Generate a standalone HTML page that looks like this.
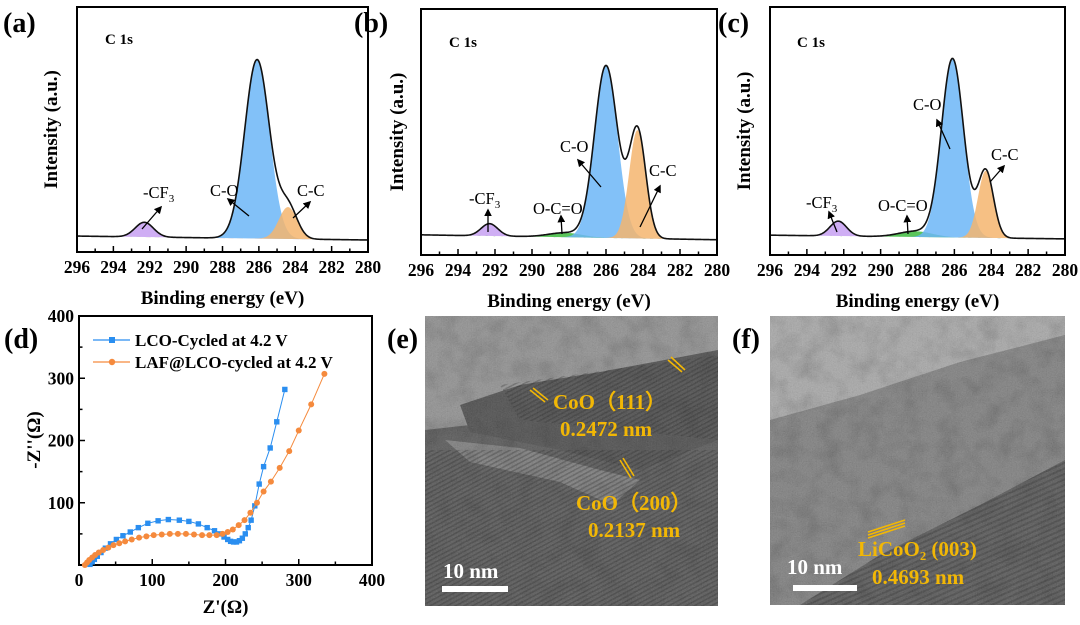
<!DOCTYPE html>
<html><head><meta charset="utf-8">
<style>
html,body{margin:0;padding:0;background:#fff;}
body{width:1080px;height:625px;overflow:hidden;position:relative;font-family:"Liberation Serif",serif;}
svg{position:absolute;left:0;top:0;}
</style></head>
<body>
<svg id="fig" width="1080" height="625" viewBox="0 0 1080 625">
<defs>
<filter id="grainE" x="0" y="0" width="100%" height="100%">
<feTurbulence type="fractalNoise" baseFrequency="0.8" numOctaves="2" seed="3"/>
<feColorMatrix type="matrix" values="0.33 0.33 0.33 0 0  0.33 0.33 0.33 0 0  0.33 0.33 0.33 0 0  0 0 0 0 0.5"/>
</filter>
<filter id="blobs" x="0" y="0" width="100%" height="100%">
<feTurbulence type="fractalNoise" baseFrequency="0.05" numOctaves="3" seed="7"/>
<feColorMatrix type="matrix" values="0 0 0 0 0  0 0 0 0 0  0 0 0 0 0  1 0 0 0 -0.4"/>
</filter>
<pattern id="latt1" width="4" height="4" patternUnits="userSpaceOnUse" patternTransform="rotate(-28)">
<rect width="4" height="1.6" fill="rgba(0,0,0,0.3)"/></pattern>
<pattern id="latt2" width="5" height="5" patternUnits="userSpaceOnUse" patternTransform="rotate(-24)">
<rect width="5" height="2" fill="rgba(0,0,0,0.25)"/></pattern>
<marker id="arr" viewBox="0 0 10 10" refX="8" refY="5" markerWidth="6" markerHeight="6" orient="auto-start-reverse">
<path d="M0,0 L10,5 L0,10 z" fill="#000"/></marker>
<clipPath id="clipE"><rect x="425" y="316" width="293" height="290"/></clipPath>
<clipPath id="clipF"><rect x="770" y="316" width="295" height="289"/></clipPath>
</defs>
</svg>
<script>
const NS="http://www.w3.org/2000/svg";
const svg=document.getElementById('fig');
function mk(tag,attrs,parent,text){const e=document.createElementNS(NS,tag);for(const k in attrs)e.setAttribute(k,attrs[k]);if(text!==undefined)e.textContent=text;(parent||svg).appendChild(e);return e;}

// ---- XPS data (binding energy eV, intensity a.u. 0-100 scale) ----
const xpsTicks=[296,294,292,290,288,286,284,282,280];
const aCenters=[292.3,286.1,284.4];
const aAmps=[6,73,13];
const aSigmas=[0.5,0.68,0.5];
const aColors=['#c7a0f2','#6cb6f7','#f5b56e'];
const aBg=[6.5,4.9];
const bCenters=[292.3,288.2,286.0,284.3];
const bAmps=[5,1.8,70,44];
const bSigmas=[0.45,0.9,0.62,0.45];
const bColors=['#c7a0f2','#3dbb3d','#6cb6f7','#f5b56e'];
const bBg=[8.2,6.2];
const cCenters=[292.3,288.1,286.1,284.3];
const cAmps=[6,2.3,72,27];
const cSigmas=[0.45,0.9,0.6,0.42];
const cColors=['#c7a0f2','#3dbb3d','#6cb6f7','#f5b56e'];
const cBg=[8.0,6.5];

function xpsPanel(id,box,centers,amps,sigmas,colors,bg,labels,arrows,c1s,yTitleX,xTitle){
  const g=mk('g',{});
  
  
  const X=v=>box.x0+(296-v)/16*(box.x1-box.x0);
  const Y=v=>box.y1-v/100*(box.y1-box.y0);
  const bgf=e=>bg[0]+(bg[1]-bg[0])*(296-e)/16;
  const N=400;
  centers.forEach((c,i)=>{
    let d='M'+X(296)+','+Y(bgf(296));
    for(let k=0;k<=N;k++){const e=296-16*k/N;d+=' L'+X(e).toFixed(2)+','+Y(bgf(e)+amps[i]*Math.exp(-0.5*((e-c)/sigmas[i])**2)).toFixed(2);}
    d+=' L'+X(280)+','+Y(bgf(280))+' Z';
    const p=mk('path',{d:d,fill:colors[i],'fill-opacity':0.85,stroke:'none'},g);
    
    
  });
  let d='';
  for(let k=0;k<=N;k++){const e=296-16*k/N;let v=bgf(e);centers.forEach((c,i)=>{v+=amps[i]*Math.exp(-0.5*((e-c)/sigmas[i])**2);});d+=(k?' L':'M')+X(e).toFixed(2)+','+Y(v).toFixed(2);}
  const env=mk('path',{d:d,fill:'none',stroke:'#111','stroke-width':1.6},g);
  
  
  const fr=mk('rect',{x:box.x0,y:box.y0,width:box.x1-box.x0,height:box.y1-box.y0,fill:'none',stroke:'#000','stroke-width':2},g);
  
  
  for(let t=296;t>=280;t--){
    const major=t%2===0;
    mk('line',{x1:X(t),x2:X(t),y1:box.y1,y2:box.y1-(major?6:3.5),stroke:'#000','stroke-width':1.5},g);
  }
  xpsTicks.forEach(t=>{
    const tl=mk('text',{x:X(t),y:box.y1+21,'text-anchor':'middle','font-size':17.5,'font-weight':'bold'},g,String(t));
    
    
  });
  const xt=mk('text',{x:(box.x0+box.x1)/2,y:box.y1+52,'text-anchor':'middle','font-size':19,'font-weight':'bold'},g,xTitle);
  
  
  const yt=mk('text',{x:0,y:0,'text-anchor':'middle','font-size':19,'font-weight':'bold',transform:'translate('+yTitleX+','+((box.y0+box.y1)/2)+') rotate(-90)'},g,'Intensity (a.u.)');
  
  
  const cs=mk('text',{x:c1s[0],y:c1s[1],'font-size':15,'font-weight':'bold'},g,'C 1s');
  
  
  labels.forEach(L=>{
    const t=mk('text',{x:L[0],y:L[1],'font-size':16.5},g);
    if(L[2]==='-CF3'){t.textContent='-CF';mk('tspan',{'font-size':11,dy:4},t,'3');}
    else t.textContent=L[2];
    
    
  });
  arrows.forEach(a=>{
    const l=mk('line',{x1:a[0],y1:a[1],x2:a[2],y2:a[3],stroke:'#000','stroke-width':1.3,'marker-end':'url(#arr)'},g);
    
    
  });
}
xpsPanel('a',{x0:77,x1:368,y0:7,y1:252},aCenters,aAmps,aSigmas,aColors,aBg,
  [[143,198,'-CF3'],[210,196,'C-O'],[297,196,'C-C']],
  [[142,229,161,207],[249,216,228,199],[293,218,310,202]],[105,44],57,'Binding energy (eV)');
xpsPanel('b',{x0:421,x1:717,y0:9,y1:255},bCenters,bAmps,bSigmas,bColors,bBg,
  [[469,204,'-CF3'],[533,214,'O-C=O'],[560,152,'C-O'],[649,176,'C-C']],
  [[488,232,488,210],[562,234,561,216],[601,187,578,160],[640,227,660,186]],[449,47],403,'Binding  energy (eV)');
xpsPanel('c',{x0:770,x1:1065,y0:7,y1:255},cCenters,cAmps,cSigmas,cColors,cBg,
  [[806,208,'-CF3'],[878,211,'O-C=O'],[913,110,'C-O'],[991,160,'C-C']],
  [[837,232,829,212],[908,234,907,216],[950,149,937,120],[990,182,1004,166]],[797,47],750,'Binding energy (eV)');

// ---- EIS data ----
const eisXTicks=[0,100,200,300,400];
const eisYTicks=[100,200,300,400];
const lcoX=[15,18,21,25,30,36,43,51,60,70,81,94,108,122,137,150,163,175,185,192,198,203,207,211,215,219,223,227,231,235,240,246,252,261,270,281];
const lcoY=[1,5,9,14,20,27,34,41,47,53,60,67,71,73,72,70,66,60,55,50,45,41,38,37,37,39,43,50,60,72,95,130,158,188,230,282];
const lafX=[8,11,14,18,22,27,33,40,47,55,63,72,82,92,102,113,124,135,146,157,168,178,188,196,203,210,218,226,234,243,252,262,274,287,300,317,335];
const lafY=[0,4,8,12,16,20,24,28,32,35,38,41,44,46,48,49,50,50,50,49,48,48,48,50,53,57,64,72,84,100,118,134,156,183,216,258,307];
const eisSeries=[
  {name:'LCO-Cycled at 4.2 V',xs:lcoX,ys:lcoY,color:'#2a8ef0',marker:'square'},
  {name:'LAF@LCO-cycled at 4.2 V',xs:lafX,ys:lafY,color:'#f58a3d',marker:'circle'}
];
(function(){
  const g=mk('g',{});
  
  
  const x0=79,x1=372,y0=316,y1=565;
  const X=v=>x0+v/400*(x1-x0), Y=v=>y1-v/400*(y1-y0);
  const fr=mk('rect',{x:x0,y:y0,width:x1-x0,height:y1-y0,fill:'none',stroke:'#000','stroke-width':2},g);
  
  
  for(let t=0;t<=400;t+=50){
    mk('line',{x1:X(t),x2:X(t),y1:y1,y2:y1-(t%100===0?6:3.5),stroke:'#000','stroke-width':1.5},g);
    mk('line',{x1:x0,x2:x0+(t%100===0?6:3.5),y1:Y(t),y2:Y(t),stroke:'#000','stroke-width':1.5},g);
  }
  eisXTicks.forEach(t=>{const e=mk('text',{x:X(t),y:y1+21,'text-anchor':'middle','font-size':17.5,'font-weight':'bold'},g,String(t));});
  eisYTicks.forEach(t=>{const e=mk('text',{x:x0-5,y:Y(t)+6,'text-anchor':'end','font-size':17.5,'font-weight':'bold'},g,String(t));});
  const xt=mk('text',{x:(x0+x1)/2,y:613,'text-anchor':'middle','font-size':19,'font-weight':'bold'},g,"Z'(Ω)");
  
  const yt=mk('text',{x:0,y:0,'text-anchor':'middle','font-size':19,'font-weight':'bold',transform:'translate(40,440) rotate(-90)'},g,"-Z''(Ω)");
  
  eisSeries.forEach((s,si)=>{
    const sg=mk('g',{},g);
    
    
    mk('polyline',{points:s.xs.map((x,i)=>X(x)+','+Y(s.ys[i])).join(' '),fill:'none',stroke:s.color,'stroke-width':1},sg);
    s.xs.forEach((x,i)=>{
      let m;
      if(s.marker==='square')m=mk('rect',{x:X(x)-2.7,y:Y(s.ys[i])-2.7,width:5.4,height:5.4,fill:s.color},sg);
      else m=mk('circle',{cx:X(x),cy:Y(s.ys[i]),r:3,fill:s.color},sg);
      
      
    });
    const ly=340+si*22;
    const lg=mk('g',{},g);
    
    
    mk('line',{x1:93,x2:130,y1:ly,y2:ly,stroke:s.color,'stroke-width':1.2},lg);
    if(s.marker==='square')mk('rect',{x:109,y:ly-3,width:6,height:6,fill:s.color},lg);
    else mk('circle',{cx:112,cy:ly,r:3.2,fill:s.color},lg);
    mk('text',{x:135,y:ly+6,'font-size':17,'font-weight':'bold'},lg,s.name);
  });
})();

// ---- TEM images ----
function tem(id,x,y,w,h,clip,layers){
  const g=mk('g',{'clip-path':'url(#'+clip+')'});
  
  
  layers.forEach(L=>mk(L[0],L[1],g));
  mk('rect',{x:x,y:y,width:w,height:h,filter:'url(#blobs)',opacity:0.35},g);
  mk('rect',{x:x,y:y,width:w,height:h,filter:'url(#grainE)',opacity:0.5},g);
  return g;
}
tem('e',425,316,293,290,'clipE',[
  ['rect',{x:425,y:316,width:293,height:290,fill:'#8a8a8a'}],
  ['polygon',{points:'425,430 470,425 520,400 600,380 718,355 718,606 425,606',fill:'#4a4a4a'}],
  ['polygon',{points:'460,405 520,385 600,372 718,350 718,440 640,470 560,450 470,432',fill:'#3e3e3e'}],
  ['polygon',{points:'445,440 520,448 600,470 640,480 612,505 560,482 470,462',fill:'#7e7e7e',opacity:0.8}],
  ['polygon',{points:'425,450 718,450 718,606 425,606',fill:'url(#latt1)'}],
  ['polygon',{points:'500,385 718,355 718,440 520,420',fill:'url(#latt1)'}]
]);
tem('f',770,316,295,289,'clipF',[
  ['rect',{x:770,y:316,width:295,height:289,fill:'#767676'}],
  ['polygon',{points:'770,316 1065,316 1065,335 960,362 860,395 770,420',fill:'#a4a4a4'}],
  ['polygon',{points:'1065,460 1065,605 800,605 880,555 980,505',fill:'#4a4a4a'}],
  ['polygon',{points:'1065,460 1065,605 800,605 880,555 980,505',fill:'url(#latt2)'}]
]);
const temTxt=[
  ['e',553,409,'CoO（111）','lattice-label'],['e',560,436,'0.2472 nm','d-spacing-label'],
  ['e',576,510,'CoO（200）','lattice-label'],['e',588,537,'0.2137 nm','d-spacing-label'],
  ['f',858,556,'LiCoO₂ (003)','lattice-label'],['f',872,584,'0.4693 nm','d-spacing-label']
];
temTxt.forEach(t=>{
  const e=mk('text',{x:t[1],y:t[2],'text-anchor':'start','font-size':21,'font-weight':'bold',fill:'#f2b705'},svg,t[3]);
  
  
});
[[530,390,545,402],[533,388,548,400],[668,360,682,372],[671,357,685,370],[620,460,631,478],[623,458,634,476],[868,532,905,520],[868,535,905,523],[868,538,905,526]].forEach(l=>{
  const e=mk('line',{x1:l[0],y1:l[1],x2:l[2],y2:l[3],stroke:'#f2b705','stroke-width':1.6});
  
  
});
[[443,578,442,586,66,'e'],[787,574,793,585,64,'f']].forEach(s=>{
  const t=mk('text',{x:s[0],y:s[1],'font-size':21,'font-weight':'bold',fill:'#fff'},svg,'10 nm');
  
  const r=mk('rect',{x:s[2],y:s[3],width:s[4],height:6,fill:'#fff'});
  
});

[['(a)',3,32],['(b)',354,32],['(c)',718,32],['(d)',4,348],['(e)',387,348],['(f)',732,348]].forEach(p=>{
  const t=mk('text',{x:p[1],y:p[2],'font-size':28,'font-weight':'bold'},svg,p[0]);
  
  
});
</script>
</body></html>
